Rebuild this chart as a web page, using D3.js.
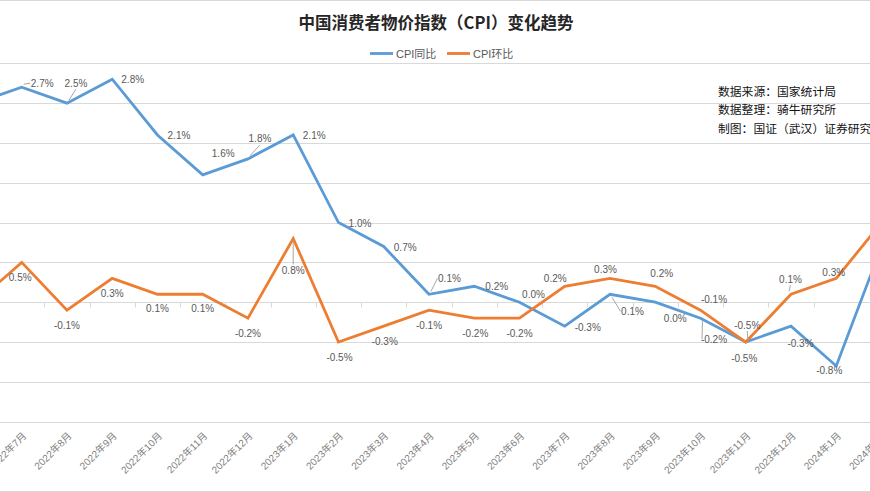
<!DOCTYPE html>
<html><head><meta charset="utf-8">
<script src="https://cdn.jsdelivr.net/npm/d3@7/dist/d3.min.js"></script>
<style>
html,body{margin:0;padding:0;background:#fff;overflow:hidden}
svg{display:block}
</style></head>
<body><svg id="c" width="870" height="492"></svg>
<script>
const months = ["2022年6月","2022年7月","2022年8月","2022年9月","2022年10月","2022年11月","2022年12月",
  "2023年1月","2023年2月","2023年3月","2023年4月","2023年5月","2023年6月","2023年7月","2023年8月",
  "2023年9月","2023年10月","2023年11月","2023年12月","2024年1月","2024年2月"];
const cpiYoY = [2.5,2.7,2.5,2.8,2.1,1.6,1.8,2.1,1.0,0.7,0.1,0.2,0.0,-0.3,0.1,0.0,-0.2,-0.5,-0.3,-0.8,0.7];
const cpiMoM = [0.0,0.5,-0.1,0.3,0.1,0.1,-0.2,0.8,-0.5,-0.3,-0.1,-0.2,-0.2,0.2,0.3,0.2,-0.1,-0.5,0.1,0.3,1.0];
const seriesNames = ["CPI同比","CPI环比"];
const yTicks = [-1.5,-1.0,-0.5,0,0.5,1.0,1.5,2.0,2.5,3.0];
const title = "中国消费者物价指数（CPI）变化趋势";
const sourceLines = ["数据来源：国家统计局","数据整理：骑牛研究所","制图：国证（武汉）证券研究所"];

// label placement (dx, dy from point; null = hidden), leader flag
const yoyLabelPos = [null,[20.5,-4],[9,-20],[20.5,0],[21.5,1],[20.5,-21],[12,-20],[21,1],[21.5,1],[21.5,1],
  [20.5,-16],[22.5,0],[14,-8],[23,1],[22.5,17],[20,16],[13.5,21],[-1.5,16],[9.5,17],[-7,5],null];
const yoyLeader = [0,1,1,0,0,0,1,0,0,0,1,0,0,0,1,0,1,0,0,0,0];
const momLabelPos = [null,[-1.5,15],[0,15],[0,15],[0,14.5],[0,14.5],[0,15],[0,32],[1,15],[1,15],
  [0,15],[1,15],[0,15],[-9.5,-8],[-4.5,-9],[6.5,-13],[13.5,-11],[1.5,-17],[-0.5,-15],[-2.5,-6],null];
const momLeader = [0,0,0,0,0,0,0,1,0,0,0,0,0,0,0,0,0,1,1,0,0];

const colors = ["#5B9BD5","#ED7D31"];
const W = 870, H = 492;
const svg = d3.select("#c");

const x = d3.scalePoint().domain(months).range([-23.55, 881.5]);
const y = d3.scaleLinear().domain([-1.5, 3.0]).range([421.7, 63.3]);

// border lines
svg.append("line").attr("x1",0).attr("x2",W).attr("y1",0.5).attr("y2",0.5).attr("stroke","#d9d9d9");
svg.append("line").attr("x1",0).attr("x2",W).attr("y1",491.5).attr("y2",491.5).attr("stroke","#d9d9d9");

// gridlines
svg.append("g").selectAll("line").data(yTicks.filter(v=>v!==0)).join("line")
  .attr("x1",0).attr("x2",W)
  .attr("y1",d=>Math.round(y(d))+0.5).attr("y2",d=>Math.round(y(d))+0.5)
  .attr("stroke","#d9d9d9").attr("stroke-width",1);

// zero axis with ticks between categories
const step = x.step();
const zeroY = Math.round(y(0))+0.5;
svg.append("line").attr("x1",0).attr("x2",W).attr("y1",zeroY).attr("y2",zeroY).attr("stroke","#d9d9d9");
svg.append("g").selectAll("line").data(months.slice(0,-1)).join("line")
  .attr("x1",d=>Math.round(x(d)+step/2)+0.5).attr("x2",d=>Math.round(x(d)+step/2)+0.5)
  .attr("y1",zeroY).attr("y2",zeroY+5).attr("stroke","#d9d9d9");

// x labels
svg.append("g").selectAll("text").data(months).join("text")
  .attr("transform",d=>`translate(${x(d)+3},${434}) rotate(-45)`)
  .attr("text-anchor","end").attr("dy","0.35em")
  .attr("font-family","'Liberation Sans','Noto Sans CJK SC',sans-serif")
  .attr("font-size",10).attr("fill","#7f7f7f").text(d=>d);

// lines
const line = d3.line().x((d,i)=>x(months[i])).y(d=>y(d));
[cpiYoY, cpiMoM].forEach((s,k)=>{
  svg.append("path").datum(s).attr("d",line).attr("fill","none")
    .attr("stroke",colors[k]).attr("stroke-width",2.8).attr("stroke-linejoin","miter");
});

// data labels
function addLabels(vals, pos, leader){
  const g = svg.append("g");
  vals.forEach((v,i)=>{
    const p = pos[i]; if(!p) return;
    const px = x(months[i]), py = y(v);
    const cx = px+p[0], cy = py+p[1];
    g.append("text").attr("x",cx).attr("y",cy).attr("text-anchor","middle")
      .attr("dominant-baseline","central")
      .attr("font-family","'Liberation Sans',Arial,sans-serif").attr("font-size",10)
      .attr("fill","#595959").text(v.toFixed(1)+"%");
    if(leader[i]){
      const hw = 12, hh = 6;
      let ex, ey;
      if(Math.abs(p[0]) > hw){ ex = cx - Math.sign(p[0])*hw; ey = cy; }
      else { ex = cx; ey = cy - Math.sign(p[1])*hh; }
      const sx = px + Math.sign(p[0])*2, sy = py + Math.sign(p[1])*3;
      g.append("path").attr("d",`M${sx},${sy}L${ex},${ey}`).attr("fill","none")
        .attr("stroke","#a6a6a6").attr("stroke-width",1);
    }
  });
}
addLabels(cpiYoY, yoyLabelPos, yoyLeader);
addLabels(cpiMoM, momLabelPos, momLeader);

// title
svg.append("text").attr("x",436).attr("y",22).attr("text-anchor","middle").attr("dominant-baseline","central")
  .attr("font-family","'Noto Sans CJK SC',sans-serif").attr("font-weight","bold").attr("font-size",16.5)
  .attr("fill","#262626").text(title);

// legend
const lg = svg.append("g");
const legX = [370, 447];
seriesNames.forEach((n,k)=>{
  lg.append("line").attr("x1",legX[k]).attr("x2",legX[k]+23).attr("y1",53.5).attr("y2",53.5)
    .attr("stroke",colors[k]).attr("stroke-width",2.8);
  lg.append("text").attr("x",legX[k]+26).attr("y",53.5).attr("dominant-baseline","central")
    .attr("font-family","'Liberation Sans','Noto Sans CJK SC',sans-serif").attr("font-size",11)
    .attr("fill","#595959").text(n);
});

// source text
svg.append("g").selectAll("text").data(sourceLines).join("text")
  .attr("x",718).attr("y",(d,i)=>90+i*18.5).attr("dominant-baseline","central")
  .attr("font-family","'Noto Sans CJK SC',sans-serif").attr("font-size",11.8)
  .attr("fill","#111").text(d=>d);
</script></body></html>
